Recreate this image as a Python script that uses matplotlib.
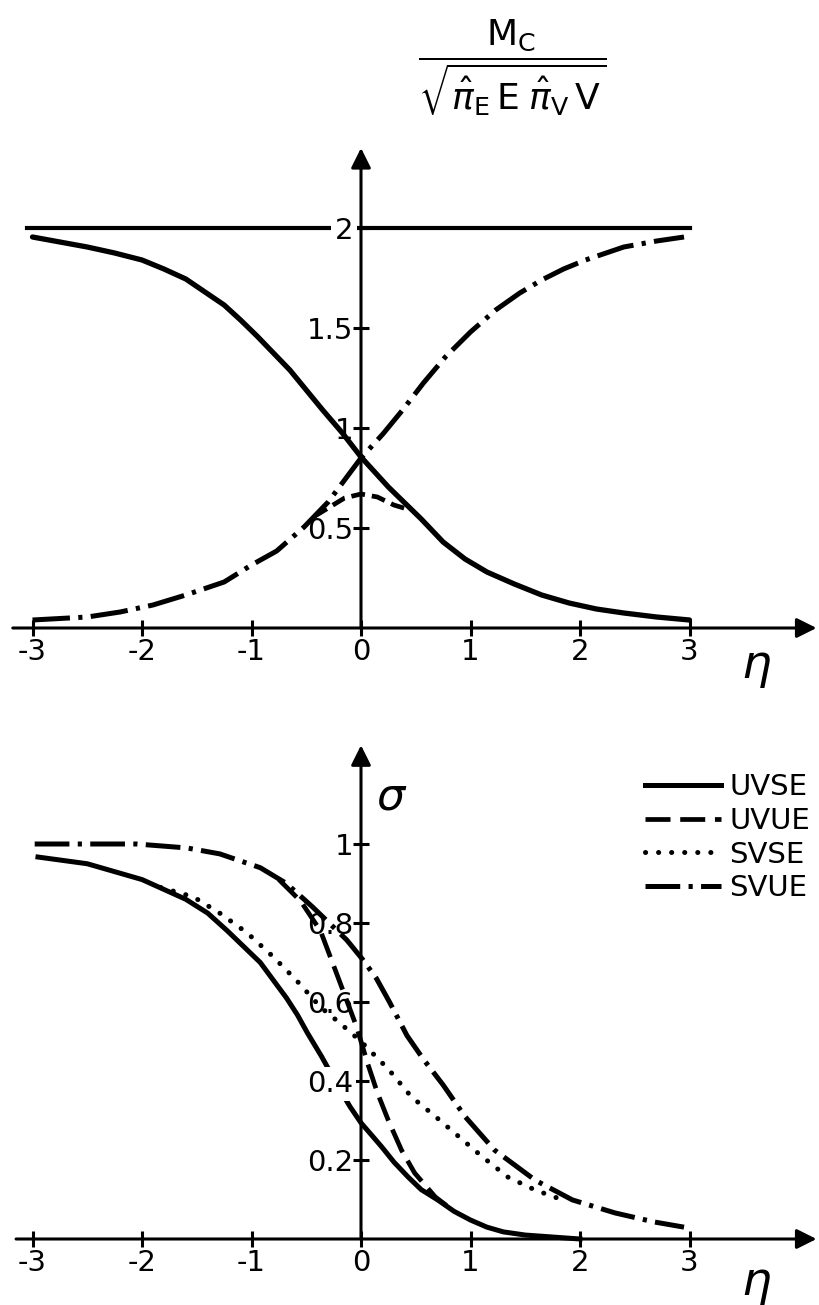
import matplotlib
matplotlib.use('Agg')
import matplotlib.pyplot as plt

plt.rcParams['lines.scale_dashes'] = False
plt.rcParams['font.family'] = 'DejaVu Sans'
plt.rcParams['mathtext.fontset'] = 'dejavusans'

# ── Top panel: M_c normalised vs eta ─────────────────────────────────────────
top_flat_eta = [-3.05, 3.0]
top_flat = [2.0, 2.0]

top_solid_eta = [-3.0, -2.5, -2.25, -2.0, -1.8, -1.6, -1.25, -1.1, -0.95, -0.8,
                 -0.65, -0.5, -0.35, -0.17, 0.0, 0.25, 0.55, 0.75, 0.95, 1.15,
                 1.4, 1.65, 1.9, 2.15, 2.4, 2.7, 3.0]
top_solid = [1.955, 1.905, 1.875, 1.84, 1.795, 1.745, 1.615, 1.54, 1.46, 1.375,
             1.29, 1.19, 1.09, 0.975, 0.855, 0.705, 0.545, 0.43, 0.345, 0.28,
             0.22, 0.165, 0.125, 0.095, 0.075, 0.055, 0.04]

top_dashdot_eta = [-3.0, -2.5, -2.2, -1.9, -1.6, -1.25, -1.0, -0.77, -0.52, -0.3,
                   0.0, 0.2, 0.38, 0.57, 0.77, 1.0, 1.23, 1.45, 1.65, 1.85, 2.05,
                   2.4, 2.7, 2.95]
top_dashdot = [0.04, 0.055, 0.08, 0.115, 0.165, 0.23, 0.315, 0.385, 0.505, 0.63,
               0.85, 0.97, 1.09, 1.225, 1.355, 1.48, 1.59, 1.675, 1.74, 1.795,
               1.84, 1.905, 1.935, 1.955]

top_dashed_eta = [-0.42, -0.3, -0.15, 0.0, 0.15, 0.3, 0.45]
top_dashed = [0.56, 0.6, 0.65, 0.67, 0.655, 0.615, 0.59]

# ── Bottom panel: sigma vs eta ───────────────────────────────────────────────
uvse_eta = [-2.95, -2.5, -2.25, -2.0, -1.8, -1.6, -1.4, -1.22, -1.07, -0.92,
            -0.8, -0.68, -0.58, -0.49, -0.36, -0.19, -0.1, 0.0, 0.1, 0.19, 0.3,
            0.43, 0.55, 0.7, 0.85, 1.0, 1.15, 1.3, 1.5, 1.75, 2.0]
uvse = [0.967, 0.95, 0.93, 0.91, 0.885, 0.86, 0.825, 0.78, 0.74, 0.70,
        0.655, 0.61, 0.567, 0.522, 0.462, 0.377, 0.335, 0.294, 0.262, 0.233, 0.195,
        0.157, 0.125, 0.099, 0.07, 0.048, 0.03, 0.018, 0.01, 0.005, 0.0]

uvue_eta = [-0.75, -0.55, -0.37, -0.22, -0.04, 0.06, 0.15, 0.25, 0.37, 0.49,
            0.68, 0.78]
uvue = [0.91, 0.855, 0.78, 0.67, 0.537, 0.445, 0.37, 0.30, 0.225, 0.167,
        0.106, 0.085]

svse_eta = [-1.83, -1.53, -1.29, -1.04, -0.80, -0.59, -0.37, -0.19, 0.0, 0.25,
            0.46, 0.68, 0.89, 1.1, 1.34, 1.59, 1.84]
svse = [0.89, 0.866, 0.825, 0.775, 0.714, 0.655, 0.587, 0.546, 0.50, 0.43,
        0.36, 0.31, 0.26, 0.21, 0.157, 0.124, 0.099]

svue_eta = [-2.98, -2.5, -2.05, -1.59, -1.29, -0.92, -0.68, -0.44, -0.13, 0.02,
            0.14, 0.26, 0.42, 0.57, 0.75, 0.95, 1.22, 1.59, 1.93, 2.32, 2.68, 2.95]
svue = [1.0, 1.0, 1.0, 0.99, 0.975, 0.94, 0.90, 0.84, 0.757, 0.706,
        0.66, 0.60, 0.515, 0.455, 0.39, 0.31, 0.225, 0.149, 0.099, 0.066, 0.043, 0.03]

x_ticks = [-3, -2, -1, 0, 1, 2, 3]
x_labels = ['-3', '-2', '-1', '0', '1', '2', '3']
top_yticks = [0.5, 1.0, 1.5, 2.0]
top_ylabels = ['0.5', '1', '1.5', '2']
bot_yticks = [0.2, 0.4, 0.6, 0.8, 1.0]
bot_ylabels = ['0.2', '0.4', '0.6', '0.8', '1']

W, H = 819, 1305
X0, XS = 361, 109.5            # pixel of eta=0, pixels per unit
XLIM = (-X0 / XS, (W - X0) / XS)

fig = plt.figure(figsize=(W / 100, H / 100), dpi=100)
fig.patch.set_facecolor('white')
ax1 = fig.add_axes([0, 1 - 700 / H, 1, 700 / H])
ax2 = fig.add_axes([0, 0, 1, 605 / H])
ax1.set_ylim((628 - 700) / 200, 628 / 200)
ax2.set_ylim((1239 - 1305) / 395, (1239 - 700) / 395)

AX_LW = 2.2


def setup(ax, yticks, ylabels, ytop, xstart):
    ax.set_xlim(*XLIM)
    ax.patch.set_visible(False)
    for s in ax.spines.values():
        s.set_visible(False)
    ax.spines['left'].set_position(('data', 0))
    ax.spines['bottom'].set_position(('data', 0))
    ax.set_xticks(x_ticks)
    ax.set_xticklabels(x_labels)
    ax.set_yticks(yticks)
    ax.set_yticklabels(ylabels)
    ax.tick_params(axis='x', direction='inout', length=11, width=AX_LW,
                   labelsize=21, pad=2)
    ax.tick_params(axis='y', direction='inout', length=11, width=AX_LW,
                   labelsize=21, pad=0)
    arrow = dict(arrowstyle='-|>', lw=AX_LW, color='k', mutation_scale=30,
                 shrinkA=0, shrinkB=0)
    ax.annotate('', xy=(4.16, 0), xytext=(xstart, 0), arrowprops=arrow)
    ax.annotate('', xy=(0, ytop), xytext=(0, 0), arrowprops=arrow)


setup(ax1, top_yticks, top_ylabels, 2.4, -3.18)
setup(ax2, bot_yticks, bot_ylabels, 1.25, -3.15)
ax1.get_yticklabels()[-1].set_bbox(dict(fc='white', ec='none', pad=3))
ax1.get_yticklabels()[-1].set_zorder(5)
ax2.get_yticklabels()[1].set_bbox(dict(fc='white', ec='none', pad=2))
ax2.get_yticklabels()[1].set_zorder(5)

# top curves
ax1.plot(top_flat_eta, top_flat, color='k', lw=3.0, zorder=1)
ax1.plot(top_solid_eta, top_solid, color='k', lw=3.8, solid_capstyle='round')
ax1.plot(top_dashdot_eta, top_dashdot, color='k', lw=3.6,
         linestyle=(0, (27, 6, 3, 6)))
ax1.plot(top_dashed_eta, top_dashed, color='k', lw=3.4,
         linestyle=(0, (10, 5)))

ax1.text(1.38, 2.80,
         r'$\dfrac{\mathrm{M_C}}{\sqrt{\hat{\pi}_\mathrm{E}\,\mathrm{E}\;\hat{\pi}_\mathrm{V}\,\mathrm{V}}}$',
         fontsize=26, ha='center', va='center')
ax1.text(3.61, -0.2, r'$\eta$', fontsize=34, ha='center', va='center')

# bottom curves
ax2.plot(uvse_eta, uvse, color='k', lw=3.6, label='UVSE', zorder=1)
ax2.plot(uvue_eta, uvue, color='k', lw=3.4, linestyle=(0, (18, 7)),
         label='UVUE')
ax2.plot(svse_eta, svse, color='k', lw=3.6, linestyle=(0, (0.1, 9.3)),
         dash_capstyle='round', label='SVSE')
ax2.plot(svue_eta, svue, color='k', lw=3.6, linestyle=(0, (25, 6, 3, 6)),
         label='SVUE')

ax2.text(0.28, 1.12, r'$\sigma$', fontsize=32, ha='center', va='center')
ax2.text(3.61, -0.116, r'$\eta$', fontsize=34, ha='center', va='center')

fig.legend(loc='upper left', bbox_to_anchor=(645 / W, 1 - 773 / H),
           frameon=False, fontsize=21, handlelength=2.6, handletextpad=0.3,
           labelspacing=0.2, borderpad=0, borderaxespad=0)

fig.savefig('out.png', dpi=100, facecolor='white')
